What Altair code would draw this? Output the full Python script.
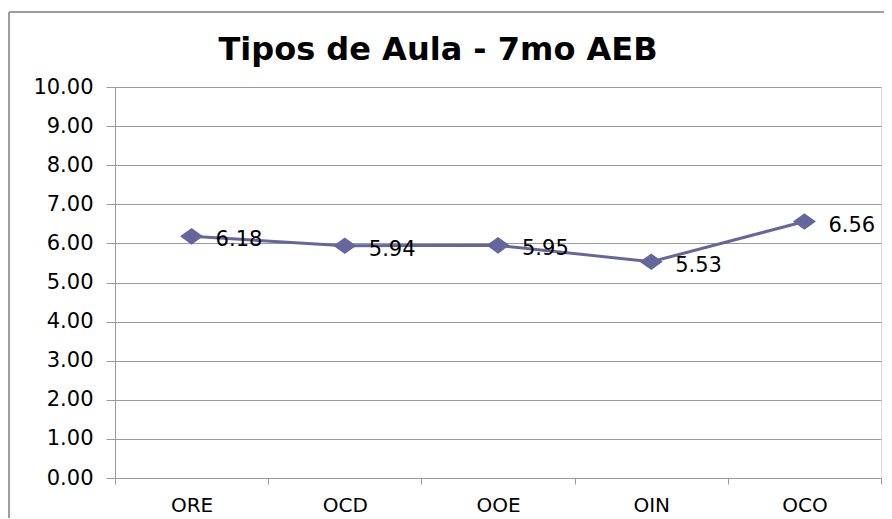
import altair as alt
import pandas as pd

categories = ["ORE", "OCD", "OOE", "OIN", "OCO"]
values = [6.18, 5.94, 5.95, 5.53, 6.56]
y_ticks = [0, 1, 2, 3, 4, 5, 6, 7, 8, 9, 10]
title_text = "Tipos de Aula - 7mo AEB"

df = pd.DataFrame({"cat": categories, "val": values})

LINE = "#66669F"
GRID = "#9A9A9A"
FONT = "DejaVu Sans"

x_enc = alt.X(
    "cat:N",
    sort=categories,
    scale=alt.Scale(paddingInner=0, paddingOuter=0),
    axis=alt.Axis(
        title=None, grid=False, labelAngle=0, labelFontSize=20, labelFont=FONT,
        labelColor="black", tickBand="extent", tickSize=6, tickColor=GRID,
        domainColor=GRID, labelPadding=11,
    ),
)
y_enc = alt.Y(
    "val:Q",
    scale=alt.Scale(domain=[0, 10], nice=False, zero=True),
    axis=alt.Axis(
        title=None, values=y_ticks, format=".2f", labelFontSize=21, labelFont=FONT,
        labelColor="black", tickSize=9, tickColor=GRID, gridColor=GRID,
        domainColor=GRID, labelPadding=13, gridWidth=1,
    ),
)

base = alt.Chart(df)

line = base.mark_line(color=LINE, strokeWidth=3).encode(x=x_enc, y=y_enc)
points = base.mark_point(
    shape="M-1,0L0,-0.72L1,0L0,0.72Z", filled=True, opacity=1, color=LINE, size=529
).encode(x=x_enc, y=y_enc)
labels = base.mark_text(
    align="left", baseline="middle", dx=24, dy=4, fontSize=21, font=FONT, color="black"
).encode(x=x_enc, y=y_enc, text=alt.Text("val:Q", format=".2f"))

title = alt.Chart(pd.DataFrame({"t": [title_text]})).mark_text(
    align="center", baseline="alphabetic", fontSize=32, font=FONT, fontWeight="bold",
    color="black",
).encode(x=alt.value(323), y=alt.value(-27), text="t:N")

border_left = alt.Chart(df).mark_rule(color=GRID, strokeWidth=1).encode(
    x=alt.value(-106), y=alt.value(-75), y2=alt.value(445)
)
border_top = alt.Chart(df).mark_rule(color=GRID, strokeWidth=1).encode(
    x=alt.value(-106), x2=alt.value(800), y=alt.value(-75)
)

chart = (
    alt.layer(border_left, border_top, line, points, labels, title)
    .properties(
        width=766,
        height=391,
        autosize=alt.AutoSizeParams(type="none"),
        padding={"left": 107, "top": 79, "right": 3, "bottom": 40},
    )
    .configure_view(stroke=None)
    .configure(background="white")
)

chart.save("out.html", embed_options={"renderer": "svg", "actions": False})
